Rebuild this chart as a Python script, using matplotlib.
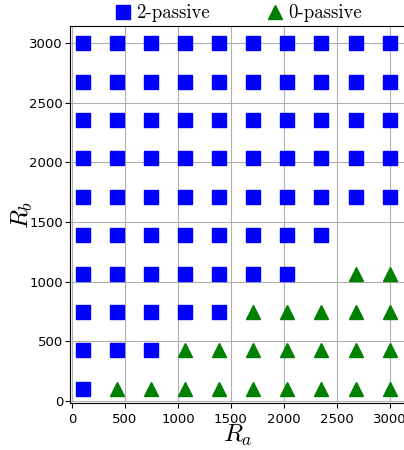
import numpy as np
import matplotlib
matplotlib.use('Agg')
import matplotlib.pyplot as plt

plt.rcParams['mathtext.fontset'] = 'cm'

Ra = [100, 422, 744, 1067, 1389, 1711, 2033, 2356, 2678, 3000]
Rb = [100, 422, 744, 1067, 1389, 1711, 2033, 2356, 2678, 3000]
# 2 = 2-passive, 0 = 0-passive, -1 = nothing; rows go bottom (Rb=100) to top
cls = [
    [2, 0, 0, 0, 0, 0, 0, 0, 0, 0],
    [2, 2, 2, 0, 0, 0, 0, 0, 0, 0],
    [2, 2, 2, 2, 2, 0, 0, 0, 0, 0],
    [2, 2, 2, 2, 2, 2, 2, -1, 0, 0],
    [2, 2, 2, 2, 2, 2, 2, 2, -1, -1],
    [2, 2, 2, 2, 2, 2, 2, 2, 2, 2],
    [2, 2, 2, 2, 2, 2, 2, 2, 2, 2],
    [2, 2, 2, 2, 2, 2, 2, 2, 2, 2],
    [2, 2, 2, 2, 2, 2, 2, 2, 2, 2],
    [2, 2, 2, 2, 2, 2, 2, 2, 2, 2],
]

cls = np.array(cls)
xx, yy = np.meshgrid(Ra, Rb)

fig = plt.figure(figsize=(4.04, 4.5), dpi=100)
ax = fig.add_axes([0.1733, 0.1044, 0.829, 0.8378])

m2 = cls == 2
m0 = cls == 0
ax.plot(xx[m2], yy[m2], 's', color='blue', ms=10, ls='none', label='2-passive', zorder=3)
ax.plot(xx[m0], yy[m0], '^', color='green', ms=10, ls='none', label='0-passive', zorder=3)

ax.set_xlim(-20, 3145)
ax.set_ylim(-20, 3145)
ax.set_xticks(np.arange(0, 3001, 500))
ax.set_yticks(np.arange(0, 3001, 500))
ax.tick_params(labelsize=9.5)
ax.tick_params(axis='y', pad=1.5)
ax.grid(True, color='#b0b0b0')
ax.set_axisbelow(True)
ax.set_xlabel('$R_a$', fontsize=18, labelpad=-2)
ax.set_ylabel('$R_b$', fontsize=18, labelpad=-4)

ax.legend(loc='lower center', bbox_to_anchor=(0.5, 0.99), ncol=2, frameon=False,
          prop={'family': 'cmr10', 'size': 13.5}, handletextpad=0.2,
          columnspacing=3.0, borderaxespad=0, handlelength=1.0)

fig.savefig('out.png', dpi=100)
